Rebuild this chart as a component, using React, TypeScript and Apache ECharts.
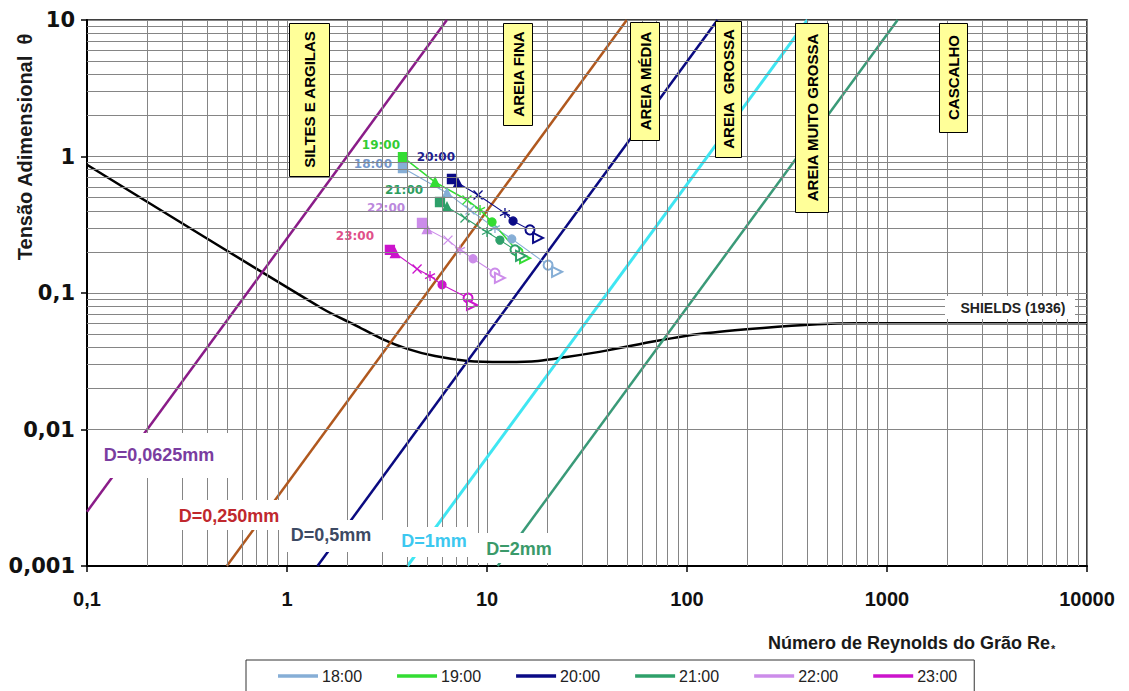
import React, { useEffect, useRef } from 'react';
import * as echarts from 'echarts';

// ---------- data ----------
const xTickLabels = ['0,1', '1', '10', '100', '1000', '10000'];
const yTickLabels = ['0,001', '0,01', '0,1', '1', '10'];
const minorSteps = [2, 3, 4, 5, 6, 7, 8, 9];
const xDecades = [0.1, 1, 10, 100, 1000];
const yDecades = [0.001, 0.01, 0.1, 1];

const hours = ['18:00', '19:00', '20:00', '21:00', '22:00', '23:00'];

const re18 = [3.8, 6.31, 8.22, 10.96, 13.3, 20.2, 22.4];
const th18 = [0.824, 0.541, 0.406, 0.299, 0.249, 0.16, 0.143];
const re19 = [3.8, 5.5, 7.94, 9.23, 10.6, 14.3, 15.5];
const th19 = [0.99, 0.65, 0.48, 0.406, 0.331, 0.2, 0.18];
const re20 = [6.68, 7.16, 9.02, 12.3, 13.5, 16.4, 18.0];
const th20 = [0.684, 0.64, 0.522, 0.385, 0.337, 0.29, 0.253];
const re21 = [5.82, 6.31, 7.76, 10.0, 11.6, 13.8, 14.8];
const th21 = [0.464, 0.427, 0.354, 0.28, 0.244, 0.207, 0.187];
const re22 = [4.73, 5.01, 6.38, 7.33, 8.51, 10.96, 11.6];
const th22 = [0.326, 0.294, 0.244, 0.207, 0.178, 0.14, 0.129];
const re23 = [3.27, 3.47, 4.47, 5.19, 5.96, 8.04, 8.41];
const th23 = [0.207, 0.196, 0.15, 0.133, 0.115, 0.092, 0.0817];

const shieldsRe = [0.1, 1.5, 2.2, 3.0, 4.0, 5.5, 8, 12, 18, 25, 40, 70, 120, 240, 450, 700, 10000];
const shieldsTheta = [0.87, 0.077, 0.058, 0.046, 0.039, 0.0345, 0.0318, 0.0312, 0.0318, 0.034, 0.038, 0.0445, 0.0505, 0.0555, 0.059, 0.06, 0.06];

const dNames = ['D=0,0625mm', 'D=0,250mm', 'D=0,5mm', 'D=1mm', 'D=2mm'];
const dRe = [[0.1, 6.3], [0.5, 50], [1.42, 142], [4.0, 400], [11.3, 1130]];
const dTheta = [[0.0025, 10], [0.001, 10], [0.001, 10], [0.001, 10], [0.001, 10]];

const regionLabels = ['SILTES E ARGILAS', 'AREIA FINA', 'AREIA MÉDIA', 'AREIA  GROSSA', 'AREIA MUITO GROSSA', 'CASCALHO'];

// ---------- styles ----------
const hourColors = ['#86AED6', '#33DD33', '#0A0A86', '#2EA06A', '#CC8CEA', '#CC14CC'];
const hourLabelColors = ['#7396CC', '#33CC33', '#1F1F90', '#2E9E5E', '#BB88DD', '#E0508A'];
const hourLabelOffsets = [[-30, -4], [-22, -12], [-16, -22], [-36, -12], [-36, -15], [-35, -14]];
const hourWidths = [1.1, 1.5, 1.1, 1.1, 1.1, 1.1];

const X_PATH = 'path://M0,0L10,10M10,0L0,10';
const STAR_PATH = 'path://M5,0L5,10M0,2.5L10,7.5M0,7.5L10,2.5';
const markerSymbols = ['rect', 'triangle', X_PATH, STAR_PATH, 'circle', 'emptyCircle', 'emptyTriangle'];
const markerSizes = [9, 9, 9, 10, 8, 9, 10];
const markerRotate = [0, 0, 0, 0, 0, 0, -90];

const dColors = ['#8A1C88', '#B0581E', '#0A0A80', '#3FE6F2', '#3A9A78'];
const dLabelColors = ['#7A3DA0', '#C0282D', '#3D4A63', '#3CC8F0', '#3A9A6A'];
const dWidths = [2.5, 2.5, 2.5, 3, 2.5];
const dLabelBoxes = [
  { x: 95, y: 433, w: 133, h: 45, tx: 159, ty: 455 },
  { x: 165, y: 500, w: 128, h: 30, tx: 229, ty: 516 },
  { x: 280, y: 520, w: 103, h: 32, tx: 331, ty: 535 },
  { x: 390, y: 527, w: 87, h: 30, tx: 434, ty: 541 },
  { x: 477, y: 533, w: 83, h: 30, tx: 519, ty: 549 },
];
const regionBoxes = [
  { x: 289, y: 23, w: 40, h: 153 },
  { x: 503, y: 23, w: 29, h: 102 },
  { x: 630, y: 22, w: 29, h: 118 },
  { x: 715, y: 21, w: 26, h: 136 },
  { x: 795, y: 23, w: 33, h: 189 },
  { x: 939, y: 23, w: 28, h: 109 },
];

const hourRe = [re18, re19, re20, re21, re22, re23];
const hourTh = [th18, th19, th20, th21, th22, th23];

const centered = { align: 'center', verticalAlign: 'middle', textAlign: 'center', textVerticalAlign: 'middle' };

export default function App() {
  const ref = useRef<HTMLDivElement>(null);
  useEffect(() => {
    const chart = echarts.init(ref.current!, null, { renderer: 'svg' });

    const xMinor = xDecades.flatMap((d) => minorSteps.map((k) => +(k * d).toPrecision(3)));
    const yMinor = yDecades.flatMap((d) => minorSteps.map((k) => +(k * d).toPrecision(3)));

    const gridSeries = {
      type: 'line',
      name: '__grid',
      data: [[1, 1]],
      showSymbol: false,
      silent: true,
      z: 1,
      lineStyle: { opacity: 0 },
      markLine: {
        silent: true,
        symbol: ['none', 'none'],
        label: { show: false },
        lineStyle: { color: '#858585', width: 1, type: 'solid' },
        emphasis: { disabled: true },
        data: [...xMinor.map((v) => ({ xAxis: v })), ...yMinor.map((v) => ({ yAxis: v }))],
      },
    };

    const shieldsSeries = {
      type: 'line',
      name: 'Shields',
      data: shieldsRe.map((r, i) => [r, shieldsTheta[i]]),
      showSymbol: false,
      smooth: 0.3,
      lineStyle: { color: '#000', width: 2.5 },
      z: 2,
      silent: true,
    };

    const dSeries = dNames.map((n, i) => ({
      type: 'line',
      name: n,
      data: dRe[i].map((r, j) => [r, dTheta[i][j]]),
      showSymbol: false,
      lineStyle: { color: dColors[i], width: dWidths[i] },
      z: 2,
      silent: true,
    }));

    const hourSeries = hours.map((h, s) => ({
      type: 'line',
      name: h,
      color: hourColors[s],
      lineStyle: { color: hourColors[s], width: hourWidths[s] },
      itemStyle: { color: hourColors[s], borderColor: hourColors[s], borderWidth: 1.3 },
      z: 3,
      data: hourRe[s].map((r, i) => ({
        value: [r, hourTh[s][i]],
        symbol: markerSymbols[i],
        symbolSize: markerSizes[i],
        symbolRotate: markerRotate[i],
        label:
          i === 0
            ? {
                show: true,
                position: 'inside',
                offset: hourLabelOffsets[s],
                formatter: h,
                color: hourLabelColors[s],
                fontFamily: 'DejaVu Sans',
                fontWeight: 'bold',
                fontSize: 12,
              }
            : { show: false },
      })),
    }));

    const graphics: any[] = [];
    graphics.push({
      type: 'text',
      x: 25,
      y: 147,
      rotation: Math.PI / 2,
      z: 50,
      style: {
        text: 'Tensão Adimensional  θ',
        fontSize: 20,
        fontWeight: 'bold',
        fontFamily: 'Liberation Sans',
        fill: '#1a1a1a',
        ...centered,
      },
    });
    graphics.push({
      type: 'text',
      x: 1050,
      y: 643,
      z: 50,
      style: {
        text: 'Número de Reynolds do Grão Re',
        fontSize: 18,
        fontWeight: 'bold',
        fontFamily: 'Liberation Sans',
        fill: '#1a1a1a',
        align: 'right',
        verticalAlign: 'middle',
        textAlign: 'right',
        textVerticalAlign: 'middle',
      },
    });
    graphics.push({
      type: 'text',
      x: 1051,
      y: 649,
      z: 50,
      style: {
        text: '*',
        fontSize: 11,
        fontWeight: 'bold',
        fontFamily: 'Liberation Sans',
        fill: '#1a1a1a',
        align: 'left',
        verticalAlign: 'middle',
        textAlign: 'left',
        textVerticalAlign: 'middle',
      },
    });
    regionBoxes.forEach((b, i) => {
      graphics.push({
        type: 'rect',
        z: 40,
        shape: { x: b.x + 0.5, y: b.y + 0.5, width: b.w, height: b.h },
        style: { fill: '#FFFF99', stroke: '#000', lineWidth: 1 },
      });
      graphics.push({
        type: 'text',
        z: 41,
        x: b.x + b.w / 2 + 0.5,
        y: b.y + b.h / 2,
        rotation: Math.PI / 2,
        style: {
          text: regionLabels[i],
          fontSize: 15,
          fontWeight: 'bold',
          fontFamily: 'Liberation Sans',
          fill: '#000',
          ...centered,
        },
      });
    });
    dLabelBoxes.forEach((b, i) => {
      graphics.push({
        type: 'rect',
        z: 40,
        shape: { x: b.x, y: b.y, width: b.w, height: b.h },
        style: { fill: '#fff' },
      });
      graphics.push({
        type: 'text',
        z: 41,
        x: b.tx,
        y: b.ty,
        style: {
          text: dNames[i],
          fontSize: 18,
          fontWeight: 'bold',
          fontFamily: 'Liberation Sans',
          fill: dLabelColors[i],
          ...centered,
        },
      });
    });
    graphics.push({
      type: 'rect',
      z: 40,
      shape: { x: 945, y: 296, width: 130, height: 23 },
      style: { fill: '#fff' },
    });
    graphics.push({
      type: 'text',
      z: 41,
      x: 1013,
      y: 308,
      style: {
        text: 'SHIELDS (1936)',
        fontSize: 14,
        fontWeight: 'bold',
        fontFamily: 'Liberation Sans',
        fill: '#222',
        ...centered,
      },
    });

    const option: any = {
      animation: false,
      backgroundColor: '#fff',
      textStyle: { fontFamily: 'Liberation Sans' },
      grid: {
        left: 87,
        right: 42,
        top: 20,
        bottom: 125,
        show: true,
        borderColor: '#000',
        borderWidth: 1.5,
        backgroundColor: '#fff',
      },
      legend: {
        show: true,
        data: hours,
        left: 246,
        top: 660,
        orient: 'horizontal',
        icon: 'rect',
        itemWidth: 38,
        itemHeight: 1.5,
        itemGap: 35,
        selectedMode: false,
        textStyle: { fontSize: 16, color: '#222', fontFamily: 'Liberation Sans' },
        borderColor: '#333',
        borderWidth: 1,
        padding: [8, 17, 12, 32],
      },
      xAxis: {
        type: 'log',
        logBase: 10,
        min: 0.1,
        max: 10000,
        axisLine: { show: true, onZero: false, lineStyle: { color: '#000', width: 2 } },
        axisTick: { show: true, length: 6, lineStyle: { color: '#000', width: 1.5 } },
        axisLabel: {
          margin: 23,
          fontSize: 20,
          fontWeight: 'bold',
          color: '#111',
          fontFamily: 'Liberation Sans',
          formatter: (v: number) => xTickLabels[Math.round(Math.log10(v)) + 1] ?? '',
        },
        splitLine: { show: true, lineStyle: { color: '#858585', width: 1 } },
      },
      yAxis: {
        type: 'log',
        logBase: 10,
        min: 0.001,
        max: 10,
        axisLine: { show: true, onZero: false, lineStyle: { color: '#000', width: 2 } },
        axisTick: { show: true, length: 6, lineStyle: { color: '#000', width: 1.5 } },
        axisLabel: {
          margin: 12,
          fontSize: 21,
          fontWeight: 'bold',
          color: '#111',
          fontFamily: 'DejaVu Sans',
          formatter: (v: number) => yTickLabels[Math.round(Math.log10(v)) + 3] ?? '',
        },
        splitLine: { show: true, lineStyle: { color: '#858585', width: 1 } },
      },
      series: [gridSeries, shieldsSeries, ...dSeries, ...hourSeries],
      graphic: { elements: graphics },
    };

    chart.setOption(option);
    return () => chart.dispose();
  }, []);
  return (
    <div
      ref={ref}
      style={{ position: 'fixed', left: 0, top: 0, width: 1129, height: 691, background: '#fff' }}
    />
  );
}
